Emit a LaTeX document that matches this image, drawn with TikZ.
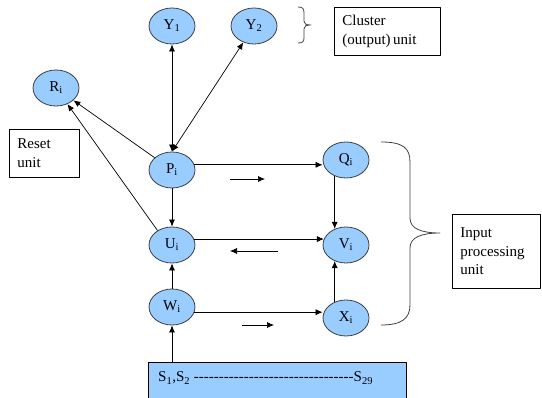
\documentclass[tikz,border=0pt]{standalone}
\usepackage{fontspec}
\setmainfont{Liberation Serif}
\newfontfamily\artfont{Liberation Serif}
\usepackage{xcolor}
\usepackage{tikz}
\usetikzlibrary{arrows.meta,positioning,shapes.geometric}
\definecolor{artFill}{HTML}{99CCFF}
\definecolor{artEdge}{HTML}{3F3F3F}
\definecolor{artInk}{HTML}{000000}
\definecolor{artBrace}{HTML}{404040}
\newcommand{\artdashes}{\foreach \k in {1,...,32}{-}}
\tikzset{
  art diagram/.style={x=1pt, y=-1pt, font=\artfont\fontsize{15}{18.5}\selectfont,
    text=artInk, line join=round},
  art unit/.style={ellipse, draw=artEdge, fill=artFill, line width=0.8pt,
    minimum width=46pt, minimum height=36pt, inner sep=0pt},
  art note/.style={draw=artInk, fill=white, line width=0.7pt, anchor=north west,
    align=left, inner xsep=8pt, inner ysep=0pt},
  art input/.style={draw=artInk, fill=artFill, line width=0.8pt, anchor=north west,
    inner sep=0pt},
  art arrow/.style={-{Latex[length=7pt,width=6pt]}, draw=artInk, line width=0.7pt},
  art both/.style={art arrow, {Latex[length=7pt,width=6pt]}-{Latex[length=7pt,width=6pt]}},
  art brace/.style={draw=artBrace, line width=0.8pt}
}
\begin{document}
\begin{tikzpicture}[art diagram]
\useasboundingbox (0,0) rectangle (542,398);
% units
\node[art unit] (y1) at (172,26) {Y\textsubscript{1}};
\node[art unit] (y2) at (254,26) {Y\textsubscript{2}};
\node[art unit] (r) at (56,88) {R\textsubscript{i}};
\node[art unit] (p) at (172,170) {P\textsubscript{i}};
\node[art unit] (q) at (346,160) {Q\textsubscript{i}};
\node[art unit] (u) at (172,245) {U\textsubscript{i}};
\node[art unit] (v) at (346,245) {V\textsubscript{i}};
\node[art unit] (w) at (172,307) {W\textsubscript{i}};
\node[art unit] (x) at (346,318) {X\textsubscript{i}};
\node[art input, minimum width=258pt, minimum height=36pt] (s) at (148,362) {};
\node[anchor=base west, inner sep=0pt] (sl) at (158,382)
  {S\textsubscript{1},S\textsubscript{2} \artdashes S\textsubscript{29}};
% notes
\node[art note, minimum width=70pt, minimum height=48pt, text width=54pt] (reset) at (9,129) {Reset\\unit};
\node[art note, minimum width=106pt, minimum height=48pt, text width=90pt] (cluster) at (334,7) {Cluster\\(output)\,unit};
\node[art note, minimum width=88pt, minimum height=74pt, text width=72pt] (inproc) at (452,214) {Input\\processing\\unit};
% connections
\draw[art both] (p) -- (y1);
\draw[art both] (p.north) -- (y2);
\draw[art arrow] (p) -- (r);
\draw[art arrow] (u.135) -- (r);
\draw[art arrow] (p.13) -- (p.13 -| q.west);
\draw[art arrow] (p) -- (u);
\draw[art arrow] (q.235) -- (v.125);
\draw[art arrow] (u.15) -- (v.165);
\draw[art arrow] (w) -- (u);
\draw[art arrow] (w.-13) -- (w.-13 -| x.west);
\draw[art arrow] (x.125) -- (v.235);
\draw[art arrow] (s.north -| w) -- (w);
% direction marks
\coordinate (pq a) at (230,179);
\coordinate (pq b) at (265,179);
\coordinate (uv a) at (278,251);
\coordinate (uv b) at (230,251);
\coordinate (wx a) at (242,325);
\coordinate (wx b) at (274,325);
\draw[art arrow] (pq a) -- (pq b);
\draw[art arrow] (uv a) -- (uv b);
\draw[art arrow] (wx a) -- (wx b);
% braces
\draw[art brace] (298,7) .. controls (303,7) and (304,9) .. (304,13) -- (304,21)
  .. controls (304,24) and (306,25) .. (311,25)
  .. controls (306,25) and (304,26) .. (304,29) -- (304,38)
  .. controls (304,42) and (302,43) .. (298,43);
\draw[art brace] (381,142) .. controls (403,142) and (410,148) .. (410,162) -- (410,218)
  .. controls (410,229) and (422,233) .. (440,233)
  .. controls (422,233) and (410,237) .. (410,248) -- (410,305)
  .. controls (410,319) and (401,325) .. (381,325);
\end{tikzpicture}
\end{document}
